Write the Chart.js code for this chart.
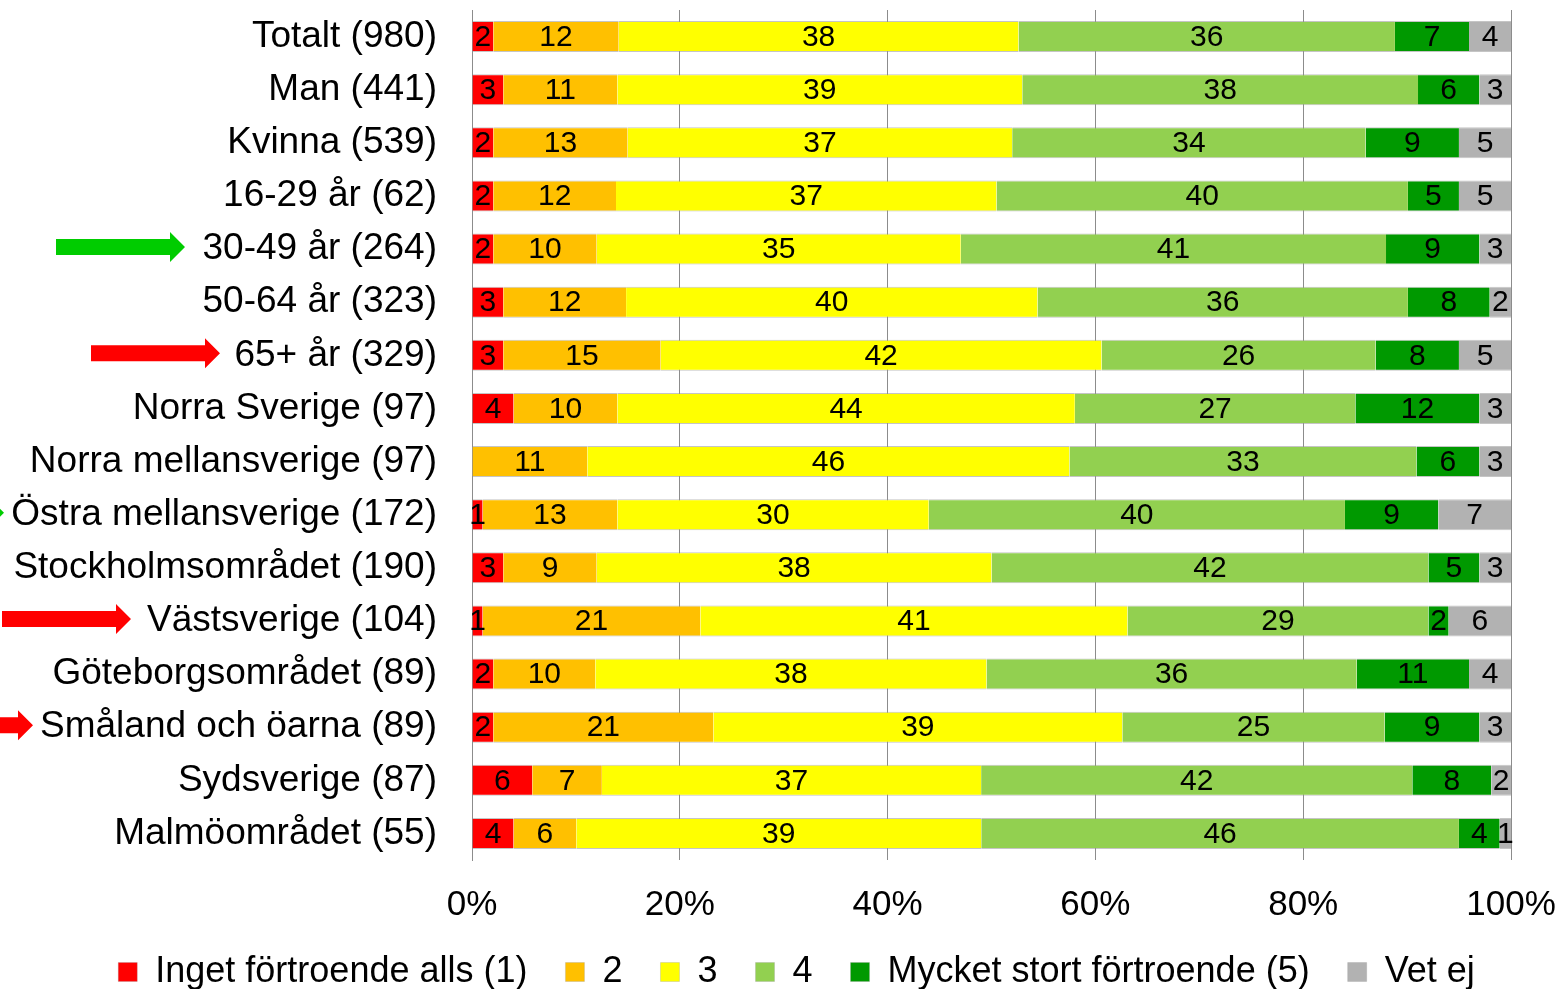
<!DOCTYPE html>
<html>
<head>
<meta charset="utf-8">
<script src="https://cdn.jsdelivr.net/npm/chart.js@4/dist/chart.umd.min.js"></script>
<style>
  html, body { margin: 0; padding: 0; background: #ffffff; }
  #wrap { position: relative; width: 1560px; height: 989px; }
</style>
</head>
<body>
<div id="wrap"><canvas id="c"></canvas></div>
<script>
// ---- Data (percent shares) ----
const categories = ['Totalt (980)', 'Man (441)', 'Kvinna (539)', '16-29 år (62)', '30-49 år (264)',
  '50-64 år (323)', '65+ år (329)', 'Norra Sverige (97)', 'Norra mellansverige (97)',
  'Östra mellansverige (172)', 'Stockholmsområdet (190)', 'Västsverige (104)',
  'Göteborgsområdet (89)', 'Småland och öarna (89)', 'Sydsverige (87)', 'Malmöområdet (55)'];

const seriesNames = ['Inget förtroende alls (1)', '2', '3', '4', 'Mycket stort förtroende (5)', 'Vet ej'];

const ingetFortroende = [2.05, 3.01, 2.05, 2.05, 2.05, 3.01, 3.01, 4.0, 0, 1.02, 3.01, 1.02, 2.05, 2.05, 5.8, 4.0];
const value2 = [12.07, 10.98, 12.93, 11.81, 9.95, 11.82, 15.15, 9.99, 11.1, 12.97, 8.99, 20.96, 9.82, 21.18, 6.7, 6.04];
const value3 = [38.48, 38.97, 37.01, 36.62, 35.04, 39.6, 42.43, 44.03, 46.4, 29.97, 38.0, 41.11, 37.65, 39.36, 36.5, 38.97];
const value4 = [36.23, 38.09, 34.02, 39.6, 40.93, 35.65, 26.38, 27.0, 33.4, 40.06, 42.05, 28.96, 35.63, 25.25, 41.5, 45.98];
const mycketStort = [7.13, 5.91, 8.98, 4.91, 8.99, 7.87, 8.02, 11.94, 6.06, 8.99, 4.91, 1.95, 10.81, 9.12, 7.6, 3.92];
const vetEj = [4.04, 3.04, 5.01, 5.01, 3.04, 2.05, 5.01, 3.04, 3.04, 6.99, 3.04, 6.0, 4.04, 3.04, 1.9, 1.09];

const xTickLabels = ['0%', '20%', '40%', '60%', '80%', '100%'];

// ---- Styles ----
const seriesColors = ['#FF0000', '#FFC000', '#FFFF00', '#92D050', '#009900', '#B2B2B2'];
const allSeries = [ingetFortroende, value2, value3, value4, mycketStort, vetEj];

// annotation arrows (row index, colour, tip x)
const arrowRows = [4, 6, 9, 11, 13];
const arrowColors = ['#00CC00', '#FF0000', '#00CC00', '#FF0000', '#FF0000'];
const arrowTipX = [185, 220, 4, 131, 33];

Chart.defaults.font.family = "'Liberation Sans', Arial, sans-serif";
Chart.defaults.color = '#000000';

const datasets = allSeries.map((arr, i) => ({
  label: seriesNames[i],
  data: arr,
  backgroundColor: seriesColors[i],
  borderColor: 'rgba(150,150,150,0.55)',
  borderWidth: { top: 1, bottom: 1, left: 0, right: 0 },
  borderSkipped: false,
  barPercentage: 0.585,
  categoryPercentage: 1.0
}));

const valueLabels = {
  id: 'valueLabels',
  afterDatasetsDraw(chart) {
    const ctx = chart.ctx;
    ctx.save();
    ctx.font = "30px 'Liberation Sans', Arial, sans-serif";
    ctx.fillStyle = '#000';
    ctx.textAlign = 'center';
    ctx.textBaseline = 'middle';
    chart.data.datasets.forEach((ds, i) => {
      const meta = chart.getDatasetMeta(i);
      meta.data.forEach((bar, j) => {
        const v = ds.data[j];
        if (!v) return;
        const p = bar.getProps(['x', 'y', 'base'], true);
        ctx.fillText(String(Math.round(v)), (p.x + p.base) / 2, p.y + 1);
      });
    });
    ctx.restore();
  }
};

const arrows = {
  id: 'arrows',
  afterDraw(chart) {
    const ctx = chart.ctx;
    const ys = chart.scales.y;
    ctx.save();
    arrowRows.forEach((row, k) => {
      const y = ys.getPixelForValue(row) - 2;
      const tip = arrowTipX[k];
      const headLen = 15, headH = 15, shaftH = 8, shaftLen = 114;
      ctx.fillStyle = arrowColors[k];
      ctx.beginPath();
      ctx.moveTo(tip - headLen - shaftLen, y - shaftH);
      ctx.lineTo(tip - headLen, y - shaftH);
      ctx.lineTo(tip - headLen, y - headH);
      ctx.lineTo(tip, y);
      ctx.lineTo(tip - headLen, y + headH);
      ctx.lineTo(tip - headLen, y + shaftH);
      ctx.lineTo(tip - headLen - shaftLen, y + shaftH);
      ctx.closePath();
      ctx.fill();
    });
    ctx.restore();
  }
};

const layoutTweaks = {
  id: 'layoutTweaks',
  afterLayout(chart) {
    const lg = chart.legend;
    if (lg) {
      lg.top += 11; lg.bottom += 11;
      lg.left += 41; lg.right += 41;
    }
    // let the x tick labels draw below the fixed-height axis box without clipping
    chart.scales.x.bottom += 60;
  }
};

new Chart(document.getElementById('c'), {
  type: 'bar',
  data: { labels: categories, datasets },
  options: {
    indexAxis: 'y',
    responsive: true,
    maintainAspectRatio: false,
    animation: false,
    layout: { padding: { top: 10, right: 49, bottom: 0, left: 0 } },
    scales: {
      x: {
        stacked: true,
        min: 0, max: 100,
        ticks: {
          stepSize: 20,
          padding: 24,
          maxRotation: 0,
          font: { size: 35 },
          color: '#000',
          callback: (v) => xTickLabels[Math.round(v / 20)]
        },
        grid: { color: '#8C8C8C', lineWidth: 1, drawTicks: false },
        border: { display: false },
        afterFit(scale) { scale.height = 45; scale.paddingRight = 0; }
      },
      y: {
        stacked: true,
        ticks: { padding: 27, font: { size: 37 }, color: '#000', autoSkip: false },
        grid: { display: false },
        border: { display: true, color: '#8C8C8C', width: 1 },
        afterFit(scale) { scale.width = 472; scale.paddingTop = 0; scale.paddingBottom = 0; }
      }
    },
    plugins: {
      legend: {
        position: 'bottom',
        labels: { font: { size: 36 }, boxWidth: 19, boxHeight: 19, padding: 38, color: '#000' }
      },
      tooltip: { enabled: false }
    }
  },
  plugins: [valueLabels, arrows, layoutTweaks]
});
</script>
</body>
</html>
